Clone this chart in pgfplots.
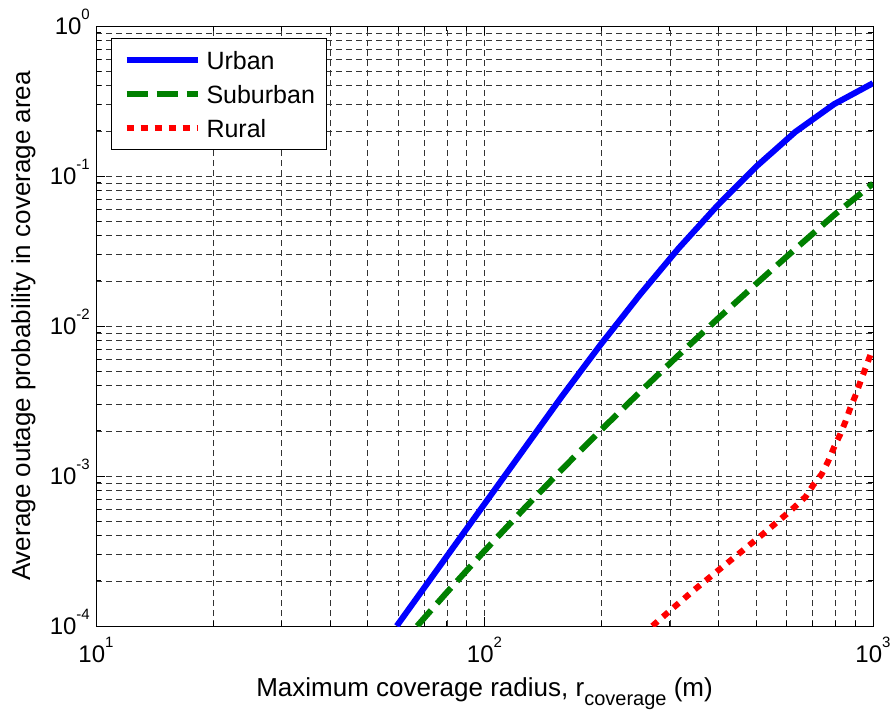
\documentclass[border=0pt]{standalone}
\usepackage{fontspec}
\setmainfont{Liberation Sans}
\usepackage{pgfplots}
\pgfplotsset{compat=1.18}
\newcommand{\tenexp}[1]{10\raisebox{15bp}{\fontsize{15bp}{15bp}\selectfont #1}}
\begin{document}
\begin{tikzpicture}
\useasboundingbox (-96bp,-87bp) rectangle (798bp,626bp);
\begin{axis}[
  at={(0bp,0bp)}, anchor=south west,
  scale only axis, width=777bp, height=600bp,
  xmode=log, ymode=log,
  xmin=10, xmax=1000, ymin=1e-4, ymax=1,
  xtick={10,100,1000}, xticklabels={\tenexp{1},\tenexp{2},\tenexp{3}},
  ytick={1e-4,1e-3,1e-2,1e-1,1},
  yticklabels={\tenexp{-4},\tenexp{-3},\tenexp{-2},\tenexp{-1},\tenexp{0}},
  minor xtick={20,30,40,50,60,70,80,90,200,300,400,500,600,700,800,900},
  minor ytick={2e-4,3e-4,4e-4,5e-4,6e-4,7e-4,8e-4,9e-4,2e-3,3e-3,4e-3,5e-3,6e-3,7e-3,8e-3,9e-3,2e-2,3e-2,4e-2,5e-2,6e-2,7e-2,8e-2,9e-2,0.2,0.3,0.4,0.5,0.6,0.7,0.8,0.9},
  grid=both,
  major grid style={black!80, line width=0.7bp, dash pattern=on 6bp off 4bp},
  minor grid style={black!80, line width=0.7bp, dash pattern=on 6bp off 4bp},
  tick align=inside,
  major tick length=9bp, minor tick length=5bp,
  every tick/.style={black, line width=0.8bp},
  axis line style={black, line width=1bp},
  tick label style={font=\fontsize{24bp}{24bp}\selectfont, inner sep=0pt},
  xticklabel style={anchor=base, yshift=-36bp},
  yticklabel style={anchor=base east, xshift=-6bp, yshift=-8bp},
  label style={font=\fontsize{26bp}{30bp}\selectfont, inner sep=0pt},
  xlabel style={at={(axis description cs:0.5,-0.1183)}, anchor=base},
  ylabel style={at={(axis description cs:-0.0849,0.5)}, anchor=base},
  xlabel={Maximum coverage radius, r\raisebox{-9bp}{\fontsize{20bp}{20bp}\selectfont coverage} (m)},
  ylabel={Average outage probability in coverage area},
  legend cell align=left,
  legend style={at={(0.0193,0.98)}, anchor=north west, draw=black, line width=1bp,
    font=\fontsize{25bp}{25bp}\selectfont, inner xsep=12bp, inner ysep=12.5bp,
    row sep=16bp, column sep=6bp,
    nodes={inner sep=0pt, text height=18bp, text depth=0bp}},
  legend image code/.code={\draw[#1, line width=6bp] (0bp,0bp) -- (71bp,0bp);},
]
\addplot[blue, line width=6bp, solid] coordinates {
(59.43,1e-4) (79.43,2.842e-4) (100,6.512e-4) (125.9,1.492e-3) (158.5,3.420e-3)
(177.8,5.087e-3) (199.5,7.568e-3) (223.9,1.107e-2) (251.2,1.618e-2)
(281.8,2.312e-2) (316.2,3.304e-2) (354.8,4.586e-2) (398.1,6.368e-2)
(446.7,8.590e-2) (501.2,0.1159) (562.3,0.1510) (631.0,0.1968) (707.9,0.2435)
(794.3,0.3013) (891.3,0.3540) (1000,0.4159)
};
\addlegendentry{Urban}
\addplot[green!50!black, line width=6bp, dash pattern=on 21bp off 9bp] coordinates {
(67.1,1e-4) (79.43,1.641e-4) (100,3.168e-4) (125.9,5.99e-4) (158.5,1.112e-3)
(199.5,2.025e-3) (251.2,3.631e-3) (316.2,6.408e-3) (398.1,1.116e-2)
(501.2,1.919e-2) (631,3.263e-2) (794.3,5.495e-2) (1000,8.9e-2)
};
\addlegendentry{Suburban}
\addplot[red, line width=6bp, dash pattern=on 7bp off 7bp] coordinates {
(270.4,1e-4) (308,1.34e-4) (350.3,1.78e-4) (399.7,2.35e-4) (454.7,3.08e-4)
(520,4.09e-4) (591,5.41e-4) (629.9,6.25e-4) (670.9,7.28e-4) (702,8.71e-4)
(737.9,1.03e-3) (767.4,1.26e-3) (793.6,1.55e-3) (822.2,1.88e-3) (850.7,2.33e-3)
(874,2.84e-3) (904,3.51e-3) (929.5,4.3e-3) (957.5,5.27e-3) (986,6.48e-3)
(1000,6.9e-3)
};
\addlegendentry{Rural}
\end{axis}
\end{tikzpicture}
\end{document}
